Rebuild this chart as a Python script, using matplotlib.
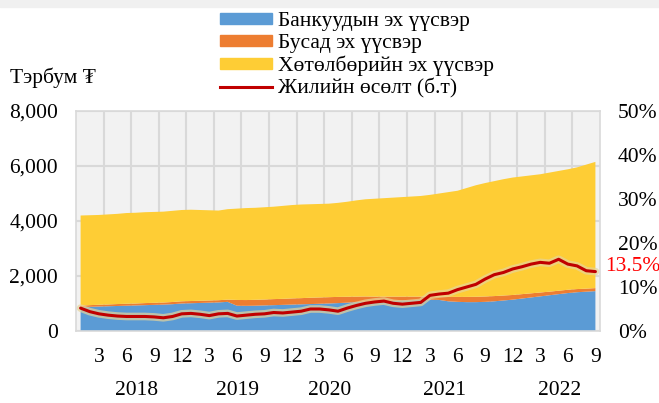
import numpy as np
import matplotlib.pyplot as plt
import matplotlib.patheffects as pe
from matplotlib.patches import Rectangle
from matplotlib.lines import Line2D
from matplotlib.transforms import blended_transform_factory

plt.rcParams['font.family'] = ['Liberation Serif', 'DejaVu Serif']

# 2018.01 - 2022.09, сар бүрээр (тэрбум ₮)
banks = [860, 880, 890, 900, 910, 920, 930, 940, 950, 960, 975, 1000,
         1010, 1020, 1030, 1040, 1060, 920, 915, 920, 930, 940, 950, 960,
         970, 980, 990, 1000, 1015, 1030, 1050, 1070, 1080, 1090, 1100, 1110,
         1120, 1130, 1140, 1130, 1080, 1060, 1050, 1050, 1060, 1080, 1110, 1140,
         1180, 1220, 1260, 1300, 1340, 1380, 1410, 1430, 1450]
other = [60, 60, 65, 65, 70, 70, 70, 75, 75, 75, 80, 80,
         80, 80, 80, 80, 80, 210, 210, 215, 215, 220, 220, 225,
         225, 230, 230, 230, 225, 215, 200, 185, 170, 160, 150, 140,
         130, 120, 110, 120, 160, 180, 190, 195, 195, 190, 180, 170,
         160, 150, 140, 130, 125, 120, 115, 110, 110]
total = [4200, 4210, 4220, 4240, 4260, 4290, 4300, 4320, 4330, 4340, 4370, 4400,
         4410, 4400, 4390, 4380, 4430, 4450, 4470, 4480, 4500, 4520, 4550, 4580,
         4600, 4610, 4620, 4630, 4660, 4700, 4750, 4790, 4810, 4830, 4850, 4870,
         4890, 4910, 4950, 5000, 5050, 5100, 5200, 5300, 5380, 5450, 5520, 5580,
         5620, 5660, 5700, 5760, 5820, 5880, 5950, 6050, 6150]
growth = [5.2, 4.4, 3.9, 3.6, 3.4, 3.3, 3.3, 3.3, 3.2, 3.0, 3.3, 3.9,
          4.0, 3.8, 3.5, 3.9, 4.0, 3.4, 3.6, 3.8, 3.9, 4.2, 4.1, 4.3,
          4.5, 5.0, 5.0, 4.8, 4.5, 5.2, 5.8, 6.3, 6.6, 6.8, 6.3, 6.1,
          6.3, 6.5, 8.1, 8.4, 8.6, 9.4, 10.0, 10.6, 11.8, 12.8, 13.3, 14.1,
          14.6, 15.2, 15.6, 15.4, 16.3, 15.2, 14.8, 13.7, 13.5]

years = ['2018', '2019', '2020', '2021', '2022']
month_labels = ['3', '6', '9', '12']
series_names = ['Банкуудын эх үүсвэр', 'Бусад эх үүсвэр',
                'Хөтөлбөрийн эх үүсвэр', 'Жилийн өсөлт (б.т)']

x = np.arange(len(total))
banks = np.array(banks)
other = np.array(other)
program = np.array(total) - banks - other

c_blue, c_orange, c_yellow, c_red = '#5b9bd5', '#ed7d31', '#fecd35', '#c00000'
grid_c = '#d9d9d9'
fs = 15.5

fig = plt.figure(figsize=(6.59, 4.03), dpi=100)
fig.patches.append(Rectangle((0, 1 - 7 / 403), 1, 7 / 403, transform=fig.transFigure,
                             color='#f0f0f0', zorder=0))
ax = fig.add_axes([76 / 659, 1 - 331 / 403, 524 / 659, 220 / 403])
ax.set_facecolor('#f2f2f2')
ax.set_axisbelow(True)

ax.stackplot(x, banks, other, program, colors=[c_blue, c_orange, c_yellow], lw=0)

ax.set_xlim(-0.5, len(x) - 0.5)
ax.set_ylim(0, 8000)
ax.set_yticks(range(0, 8001, 2000))
ax.set_yticklabels([f'{v:,}' for v in range(0, 8001, 2000)], fontsize=fs)

ticks = list(range(2, len(x), 3))
ax.set_xticks(ticks)
ax.set_xticklabels([month_labels[i % 4] for i in range(len(ticks))], fontsize=fs)
ax.set_xticks(np.arange(2.5, len(x) - 1, 3), minor=True)
ax.tick_params(axis='x', which='both', length=0, pad=12)
ax.tick_params(axis='y', length=0, pad=13)
ax.grid(axis='x', which='minor', color=grid_c, lw=1.5)
ax.grid(axis='y', which='major', color=grid_c, lw=1.5)
for s in ax.spines.values():
    s.set_color(grid_c)
    s.set_linewidth(1.2)

trans = blended_transform_factory(ax.transData, ax.transAxes)
for yr, xp in zip(years, [6.1, 17.1, 27.1, 39.6, 52.1]):
    ax.text(xp, -0.27, yr, transform=trans, ha='center', va='center', fontsize=fs)

ax2 = ax.twinx()
ax2.plot(x, growth, color=c_red, lw=2.2, solid_capstyle='round',
         path_effects=[pe.Stroke(linewidth=5.5, foreground='#e6d49a', alpha=0.7), pe.Normal()])
ax2.set_ylim(0, 50)
ax2.set_yticks(range(0, 51, 10))
ax2.set_yticklabels([f'{v}%' for v in range(0, 51, 10)], fontsize=fs)
ax2.tick_params(axis='y', length=0, pad=13)
for s in ax2.spines.values():
    s.set_visible(False)
ax2.annotate(f'{growth[-1]}%', (x[-1], growth[-1]), xytext=(7, 4), textcoords='offset points',
             color='#ff0000', fontsize=fs, ha='left', va='center')

fig.text(10 / 659, 1 - 78 / 403, 'Тэрбум ₮', fontsize=fs, va='center', ha='left')

handles = [Rectangle((0, 0), 1, 1, color=c_blue), Rectangle((0, 0), 1, 1, color=c_orange),
           Rectangle((0, 0), 1, 1, color=c_yellow), Line2D([], [], color=c_red, lw=2.2)]
fig.legend(handles, series_names, loc='upper left', bbox_to_anchor=(206 / 659, 1 + 2 / 403),
           frameon=False, fontsize=fs, handlelength=2.4, handleheight=0.42,
           handletextpad=0.3, labelspacing=0.13, borderpad=0.15)

fig.savefig('out.png', dpi=100)
